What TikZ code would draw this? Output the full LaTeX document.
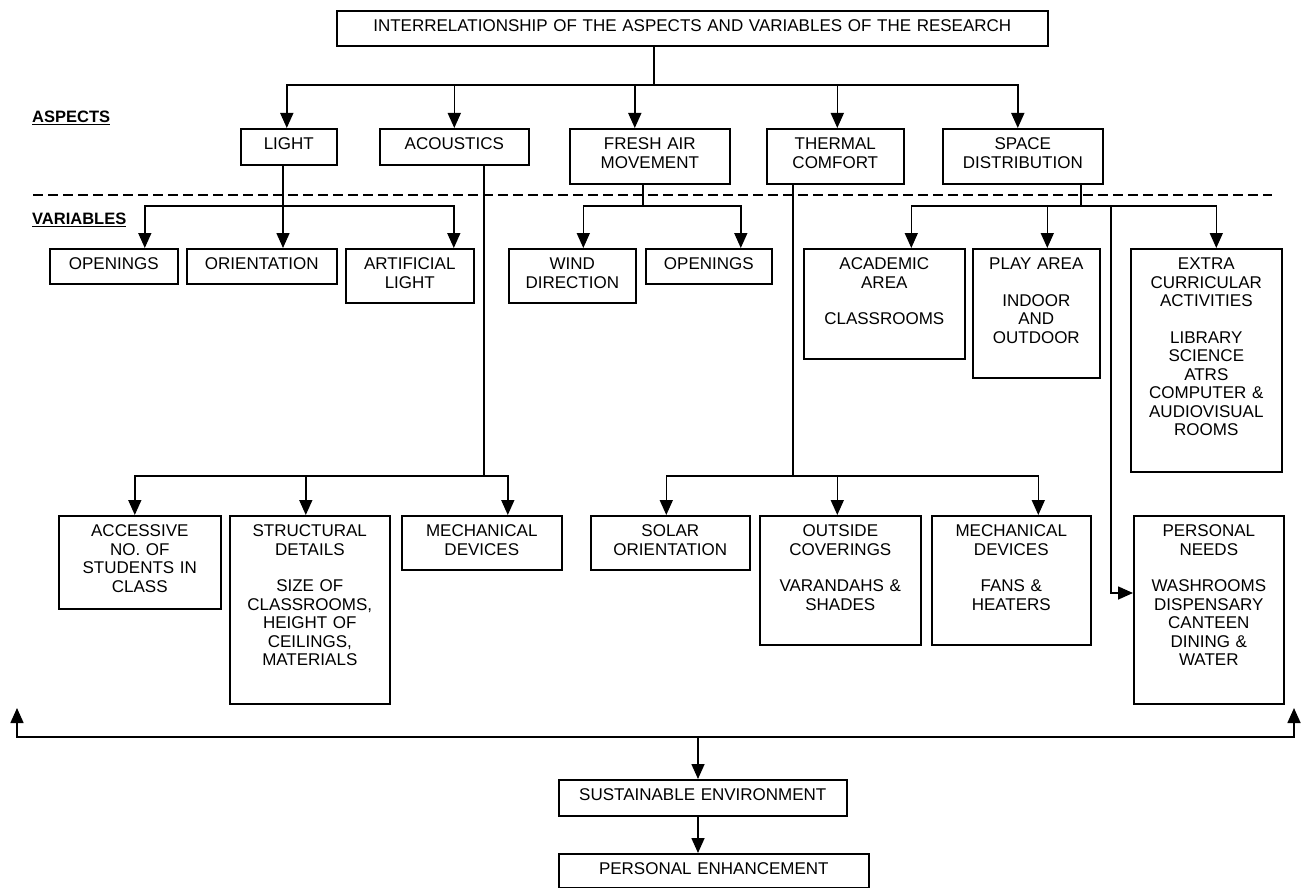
\documentclass[tikz,border=0pt]{standalone}
\usepackage{fontspec}
\setmainfont{Liberation Sans}
\usetikzlibrary{arrows.meta}
\tikzset{
    base_box/.style={draw=black, line width=1.6pt, anchor=north west, inner sep=0pt, align=center, text height=21pt, font=\fontsize{17}{18.5}\selectfont},
    box_size/.style 2 args={text width=#1pt, text depth=#2pt},
    edge_line/.style={line width=1.6pt, draw=black},
    edge_arrow/.style={->, line width=1.6pt, draw=black},
    level_label/.style={anchor=west, inner sep=0pt, font=\fontsize{16.5}{18}\selectfont\bfseries},
    split_line/.style={line width=1.6pt, draw=black, dash pattern=on 10pt off 5pt}
}

\begin{document}
\begin{tikzpicture}[x=1pt, y=-1pt, >={Triangle[length=15pt, width=13pt]}]
\path[fill=white, use as bounding box] (0,0) rectangle (1302,888);

% aspects
\node[base_box, box_size={711}{14}] (title) at (336,10) {INTERRELATIONSHIP OF THE ASPECTS AND VARIABLES OF THE RESEARCH};

\node[base_box, box_size={96}{15}]  (light)     at (240,128) {LIGHT};
\node[base_box, box_size={149}{15}] (acoustics) at (379,128) {ACOUSTICS};
\node[base_box, box_size={160}{34}] (fresh_air) at (569,128) {FRESH AIR\\MOVEMENT};
\node[base_box, box_size={137}{34}] (thermal)   at (766,128) {THERMAL\\COMFORT};
\node[base_box, box_size={160}{34}] (space)     at (942,128) {SPACE\\DISTRIBUTION};

\node[level_label] (aspects_lbl)   at (32,118) {\underline{ASPECTS}};
\node[level_label] (variables_lbl) at (32,220) {\underline{VARIABLES}};

\coordinate (split_l) at (33,195);
\coordinate (split_r) at (1272,195);
\draw[split_line] (split_l) -- (split_r);

% variables
\node[base_box, box_size={128}{14}]  (openings_l)  at (49,248)  {OPENINGS};
\node[base_box, box_size={150}{14}]  (orientation) at (186,248) {ORIENTATION};
\node[base_box, box_size={128}{33}]  (artificial)  at (345,248) {ARTIFICIAL\\LIGHT};
\node[base_box, box_size={127}{33}]  (wind)        at (508,248) {WIND\\DIRECTION};
\node[base_box, box_size={126}{14}]  (openings_r)  at (645,248) {OPENINGS};
\node[base_box, box_size={161}{89}]  (academic)    at (803,248) {ACADEMIC\\AREA\\[18pt]CLASSROOMS};
\node[base_box, box_size={127}{108}] (play)        at (972,248) {PLAY AREA\\[18pt]INDOOR\\AND\\OUTDOOR};
\node[base_box, box_size={151}{202}] (extra)       at (1130,248) {EXTRA\\CURRICULAR\\ACTIVITIES\\[18pt]LIBRARY\\SCIENCE\\ATRS\\COMPUTER \&\\AUDIOVISUAL\\ROOMS};

\node[base_box, box_size={162}{72}]  (accessive)   at (58,515)  {ACCESSIVE\\NO. OF\\STUDENTS IN\\CLASS};
\node[base_box, box_size={160}{167}] (structural)  at (229,515) {STRUCTURAL\\DETAILS\\[18pt]SIZE OF\\CLASSROOMS,\\HEIGHT OF\\CEILINGS,\\MATERIALS};
\node[base_box, box_size={160}{33}]  (mech_sound)  at (401,515) {MECHANICAL\\DEVICES};
\node[base_box, box_size={159}{33}]  (solar)       at (590,515) {SOLAR\\ORIENTATION};
\node[base_box, box_size={161}{108}] (coverings)   at (759,515) {OUTSIDE\\COVERINGS\\[18pt]VARANDAHS \&\\SHADES};
\node[base_box, box_size={159}{108}] (mech_heat)   at (931,515) {MECHANICAL\\DEVICES\\[18pt]FANS \&\\HEATERS};
\node[base_box, box_size={150}{167}] (needs)       at (1133,515) {PERSONAL\\NEEDS\\[18pt]WASHROOMS\\DISPENSARY\\CANTEEN\\DINING \&\\WATER};

% outcome
\node[base_box, box_size={288}{15}] (sustain) at (558,779) {SUSTAINABLE ENVIRONMENT};
\node[base_box, box_size={310}{13}] (enhance) at (558,853) {PERSONAL ENHANCEMENT};

\coordinate (top_bus)     at (654,85);
\coordinate (light_bus)   at (283,206);
\coordinate (fresh_bus)   at (643,206);
\coordinate (space_bus)   at (1081,206);
\coordinate (acou_bus)    at (484,476);
\coordinate (thermal_bus) at (793,476);
\coordinate (needs_turn)  at (1111,593);
\coordinate (base_bus)    at (698,737);
\coordinate (left_up)     at (17,708);
\coordinate (right_up)    at (1294,708);

\draw[edge_line] (title.south -| top_bus) -- (top_bus);
\draw[edge_arrow] (top_bus) -| ([xshift=-2pt]light.north);
\draw[edge_arrow] (top_bus) -| (acoustics.north);
\draw[edge_arrow] (top_bus) -| ([xshift=-15pt]fresh_air.north);
\draw[edge_arrow] (top_bus) -| ([xshift=2pt]thermal.north);
\draw[edge_arrow] (top_bus) -| ([xshift=-5pt]space.north);

\draw[edge_line] (light.south -| light_bus) -- (light_bus);
\draw[edge_arrow] (light_bus) -| ([xshift=31pt]openings_l.north);
\draw[edge_arrow] (light_bus) -- (light_bus |- orientation.north);
\draw[edge_arrow] (light_bus) -| ([xshift=44pt]artificial.north);

\draw[edge_line] (fresh_air.south -| fresh_bus) -- (fresh_bus);
\draw[edge_arrow] (fresh_bus) -| ([xshift=11pt]wind.north);
\draw[edge_arrow] (fresh_bus) -| ([xshift=32pt]openings_r.north);

\draw[edge_line] (space.south -| space_bus) -- (space_bus);
\draw[edge_arrow] (space_bus) -| ([xshift=27pt]academic.north);
\draw[edge_arrow] (space_bus) -| ([xshift=11pt]play.north);
\draw[edge_arrow] (space_bus) -| ([xshift=10pt]extra.north);
\draw[edge_arrow] (space_bus) -| (needs_turn) -- (needs_turn -| needs.west);

\draw[edge_line] (acoustics.south -| acou_bus) -- (acou_bus);
\draw[edge_arrow] (acou_bus) -| ([xshift=-5pt]accessive.north);
\draw[edge_arrow] (acou_bus) -| ([xshift=-4pt]structural.north);
\draw[edge_arrow] (acou_bus) -| ([xshift=26pt]mech_sound.north);

\draw[edge_line] (thermal.south -| thermal_bus) -- (thermal_bus);
\draw[edge_arrow] (thermal_bus) -| ([xshift=-4pt]solar.north);
\draw[edge_arrow] (thermal_bus) -| ([xshift=-3pt]coverings.north);
\draw[edge_arrow] (thermal_bus) -| ([xshift=27pt]mech_heat.north);

\draw[edge_arrow] (base_bus) -| (left_up);
\draw[edge_arrow] (base_bus) -| (right_up);
\draw[edge_arrow] (base_bus) -- (base_bus |- sustain.north);
\draw[edge_arrow] (sustain.south -| base_bus) -- (enhance.north -| base_bus);

\end{tikzpicture}
\end{document}
